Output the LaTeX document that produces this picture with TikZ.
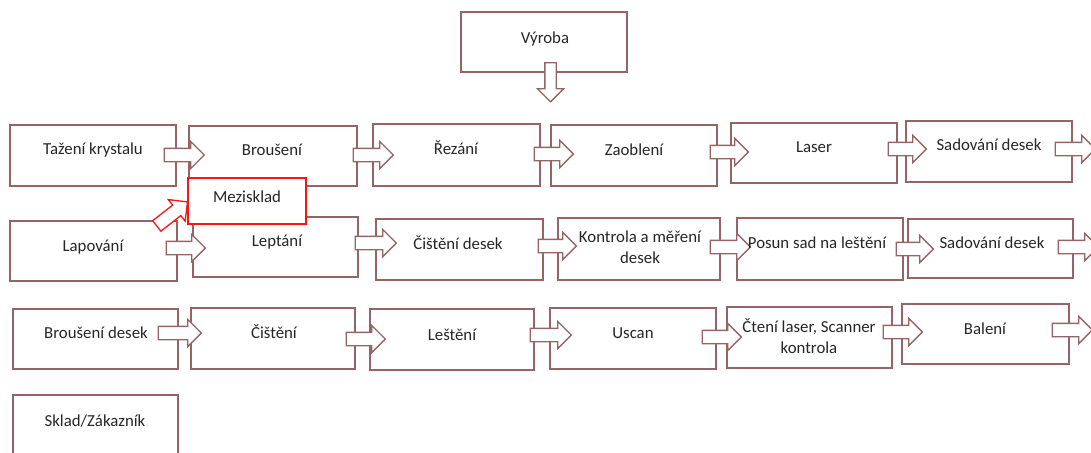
\documentclass[tikz,border=0pt]{standalone}
\usepackage{fontspec}
\setmainfont{Carlito}
\usetikzlibrary{shapes.arrows}
\definecolor{edge}{RGB}{150,100,100}
\definecolor{alert}{RGB}{250,20,20}
\begin{document}
\begin{tikzpicture}[x=1pt,y=-1pt,
  box/.style={draw=edge, fill=white, line width=1.4pt, inner sep=0pt},
  lbl/.style={font={\fontsize{16.8}{21}\selectfont}, align=center, inner sep=0pt, text=black!85},
  flow/.style={single arrow, draw=edge, fill=white, line width=1.3pt,
    inner xsep=0pt, inner ysep=6pt,
    minimum height=40pt, single arrow head extend=7pt,
    single arrow head indent=0pt},
]
\useasboundingbox (0,0) rectangle (1091,452);
\clip (0,0) rectangle (1091,452);

% top box
\node[box, minimum width=166pt, minimum height=60pt] (vyroba) at (544,42) {};

% row 1
\node[box, minimum width=166pt, minimum height=61pt] (tazeni) at (93,155.5) {};
\node[box, minimum width=168pt, minimum height=60pt] (brouseni) at (273,156) {};
\node[box, minimum width=167pt, minimum height=62pt] (rezani) at (456.5,155) {};
\node[box, minimum width=166pt, minimum height=61pt] (zaobleni) at (634,155.5) {};
\node[box, minimum width=166pt, minimum height=60pt] (laser) at (814,153) {};
\node[box, minimum width=166pt, minimum height=61pt] (sadovani1) at (989,151.5) {};

% row 2
\node[box, minimum width=167pt, minimum height=60pt] (lapovani) at (93.5,251) {};
\node[box, minimum width=165pt, minimum height=60pt] (leptani) at (275.5,247) {};
\node[box, minimum width=167pt, minimum height=61pt] (cistenidesek) at (459.5,249.5) {};
\node[box, minimum width=162pt, minimum height=62pt] (kontrola) at (639,249) {};
\node[box, minimum width=166pt, minimum height=62pt] (posun) at (820,249) {};
\node[box, minimum width=165pt, minimum height=59pt] (sadovani2) at (990.5,248.5) {};

% row 3
\node[box, minimum width=165pt, minimum height=60pt] (brousenidesek) at (95.5,339) {};
\node[box, minimum width=164pt, minimum height=61pt] (cisteni) at (273,338.5) {};
\node[box, minimum width=164pt, minimum height=61pt] (lesteni) at (452,339.5) {};
\node[box, minimum width=166pt, minimum height=61pt] (uscan) at (633,338.5) {};
\node[box, minimum width=165pt, minimum height=61pt] (cteni) at (809.5,337.5) {};
\node[box, minimum width=167pt, minimum height=60pt] (baleni) at (985.5,334) {};

% last box, running off the bottom edge
\node[box, minimum width=165pt, minimum height=75pt] (sklad) at (95.5,432.5) {};

% block arrows between the steps
\node[flow, rotate=-90, minimum height=39pt, inner ysep=5pt, single arrow head extend=7.5pt] (f0) at (550.5,79.5) {};

\node[flow] (f11) at (181,155) {};
\node[flow] (f12) at (370,155) {};
\node[flow, minimum height=39pt] (f13) at (550.5,154) {};
\node[flow, minimum height=38pt] (f14) at (726,152) {};
\node[flow, minimum height=38pt] (f15) at (904,149) {};
\node[flow] (f16) at (1072,149) {};

\node[flow, minimum height=39pt] (f21) at (182.5,248) {};
\node[flow, minimum height=41pt] (f22) at (372.5,243) {};
\node[flow, minimum height=38pt] (f23) at (554,246) {};
\node[flow] (f24) at (727,247) {};
\node[flow, minimum height=37pt] (f25) at (911.5,249) {};
\node[flow] (f26) at (1075,247) {};

\node[flow, minimum height=43pt] (f31) at (176.5,333) {};
\node[flow, minimum height=39pt] (f32) at (362.5,339) {};
\node[flow, minimum height=41pt] (f33) at (547.5,335) {};
\node[flow, minimum height=39pt] (f34) at (718.5,337) {};
\node[flow, minimum height=39pt] (f35) at (899.5,332) {};
\node[flow] (f36) at (1069,330) {};

% intermediate store, drawn on top
\node[flow, draw=alert, rotate=38, minimum height=39pt] (fm) at (169.5,216) {};
\node[box, draw=alert, line width=1.6pt, minimum width=118pt, minimum height=46pt] (mezisklad) at (247,201) {};

% labels
\node[lbl] (t-vyroba) at (545,39) {Výroba};
\node[lbl] (t-tazeni) at (93,150) {Tažení krystalu};
\node[lbl] (t-brouseni) at (272,150) {Broušení};
\node[lbl] (t-rezani) at (456,148) {Řezání};
\node[lbl] (t-zaobleni) at (634,150) {Zaoblení};
\node[lbl] (t-laser) at (814,147) {Laser};
\node[lbl] (t-sadovani1) at (989,145) {Sadování desek};
\node[lbl] (t-mezisklad) at (247,197) {Mezisklad};
\node[lbl] (t-lapovani) at (93,247) {Lapování};
\node[lbl] (t-leptani) at (277,242) {Leptání};
\node[lbl] (t-cistenidesek) at (458,243) {Čištění desek};
\node[lbl] (t-kontrola) at (640,247.5) {Kontrola a měření\\desek};
\node[lbl] (t-posun) at (817,243) {Posun sad na leštění};
\node[lbl] (t-sadovani2) at (992,243) {Sadování desek};
\node[lbl] (t-brousenidesek) at (96,333) {Broušení desek};
\node[lbl] (t-cisteni) at (274,332) {Čištění};
\node[lbl] (t-lesteni) at (452,335) {Leštění};
\node[lbl] (t-uscan) at (633,333) {Uscan};
\node[lbl] (t-cteni) at (809,336) {Čtení laser, Scanner\\kontrola};
\node[lbl] (t-baleni) at (985,329) {Balení};
\node[lbl] (t-sklad) at (95,421) {Sklad/Zákazník};
\end{tikzpicture}
\end{document}
